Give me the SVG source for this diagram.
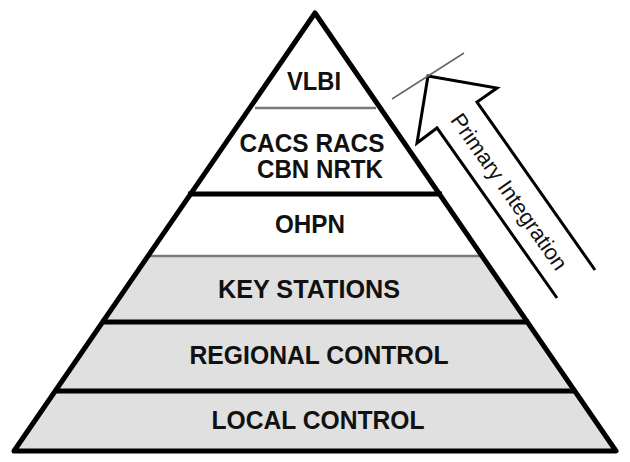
<svg xmlns="http://www.w3.org/2000/svg" width="630" height="462" viewBox="0 0 630 462">
<style>
.lbl{font-family:"Liberation Sans",Arial,sans-serif;font-weight:bold;font-size:25px;fill:#111;text-anchor:middle}
.thick{stroke:#000;stroke-width:5;fill:none}
.thin{stroke:#7a7a7a;stroke-width:2.5;fill:none}
.shade{fill:#e0e0e0;stroke:none}
</style>
<rect width="630" height="462" fill="#fff"/>
<g id="layer-local">
<polygon class="shade" points="55,391 575,391 616,451 14,451"/>
<text class="lbl" x="318" y="429" textLength="213" lengthAdjust="spacingAndGlyphs">LOCAL CONTROL</text>
</g>
<g id="layer-regional">
<polygon class="shade" points="101,322 529,322 575,391 55,391"/>
<text class="lbl" x="319" y="364" textLength="259" lengthAdjust="spacingAndGlyphs">REGIONAL CONTROL</text>
</g>
<g id="layer-key">
<polygon class="shade" points="146,256 484,256 529,322 101,322"/>
<text class="lbl" x="309" y="298" textLength="182" lengthAdjust="spacingAndGlyphs">KEY STATIONS</text>
</g>
<g id="layer-ohpn">
<text class="lbl" x="310" y="233" textLength="70" lengthAdjust="spacingAndGlyphs">OHPN</text>
</g>
<g id="layer-cacs">
<text class="lbl" x="312" y="152" textLength="145" lengthAdjust="spacingAndGlyphs">CACS RACS</text>
<text class="lbl" x="320" y="178" textLength="126" lengthAdjust="spacingAndGlyphs">CBN NRTK</text>
</g>
<g id="layer-vlbi">
<text class="lbl" x="314" y="90" textLength="54" lengthAdjust="spacingAndGlyphs">VLBI</text>
</g>
<g id="connectors">
<line class="thin" x1="255" y1="108" x2="376" y2="108"/>
<line class="thin" x1="146" y1="256" x2="484" y2="256"/>
<line class="thick" x1="188" y1="194" x2="442" y2="194"/>
<line class="thick" x1="101" y1="322" x2="529" y2="322"/>
<line class="thick" x1="55" y1="391" x2="575" y2="391"/>
<polygon class="thick" points="315,13 616,451 14,451" stroke-linejoin="round"/>
</g>
<g id="arrow">
<polyline points="557,298 437,128 417,143 428,76 497,88 477,102 595,270" fill="none" stroke="#000" stroke-width="3"/>
<line x1="392" y1="99" x2="464" y2="53" stroke="#666" stroke-width="1.5"/>
<text transform="translate(503,196) rotate(55)" x="0" y="0" font-family="Liberation Sans, Arial, sans-serif" font-size="22" fill="#111" text-anchor="middle">Primary Integration</text>
</g>
</svg>
